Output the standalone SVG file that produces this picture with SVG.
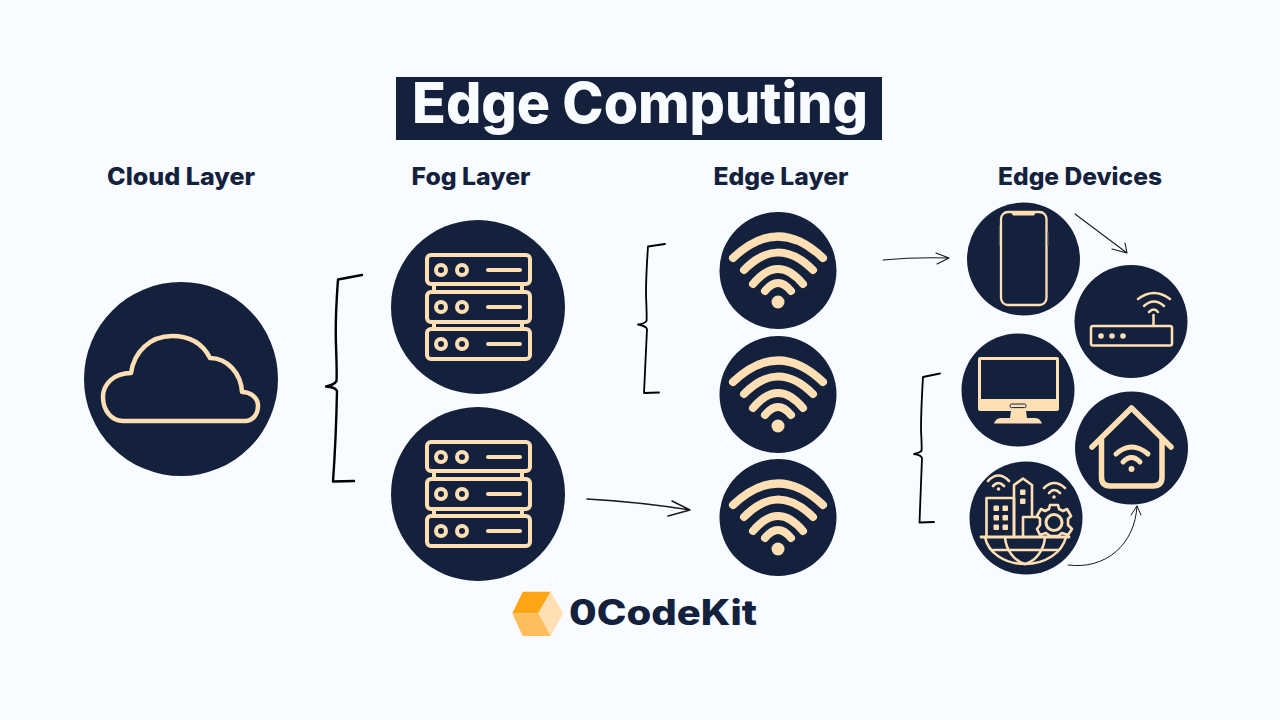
<svg xmlns="http://www.w3.org/2000/svg" xmlns:xlink="http://www.w3.org/1999/xlink" width="1280" height="720" viewBox="0 0 1280 720">
<style>
.bg{fill:#f8fbff}
.disc{fill:#14213d}
.ic{fill:none;stroke:#ffdfb3;stroke-linecap:round;stroke-linejoin:round}
.fc{fill:#ffdfb3}
.lab{font-family:"Inter","Liberation Sans",sans-serif;font-weight:800;font-size:24px;fill:#14213d;text-anchor:middle}
.br{fill:none;stroke:#000;stroke-linecap:round;stroke-linejoin:round}
.ar{fill:none;stroke:#1a1a1a;stroke-linecap:round;stroke-linejoin:round}
</style>
<defs>
<g id="server">
<g class="ic" stroke-width="4">
<rect x="427" y="-52" width="103" height="29" rx="4"/>
<rect x="427" y="-15" width="103" height="30" rx="4"/>
<rect x="427" y="22" width="103" height="30" rx="4"/>
<path d="M434,-23V-15M522,-23V-15M434,15V22M522,15V22"/>
<circle cx="441" cy="-37" r="5"/><circle cx="462" cy="-37" r="5"/><path d="M488,-37H520"/>
<circle cx="441" cy="0" r="5"/><circle cx="462" cy="0" r="5"/><path d="M488,0H520"/>
<circle cx="441" cy="37" r="5"/><circle cx="462" cy="37" r="5"/><path d="M488,37H520"/>
</g>
</g>
<g id="wifi">
<g class="ic" stroke-width="8">
<path d="M733,258Q778,215 823,258"/>
<path d="M744,270Q778,235 813,270"/>
<path d="M753,284Q778,254 803,284"/>
<path d="M765,291Q778,275 791,291"/>
</g>
<circle class="fc" cx="778" cy="302" r="6.5"/>
</g>
</defs>
<rect class="bg" width="1280" height="720"/>
<g id="title">
<rect x="396" y="77" width="486" height="63" fill="#14213d"/>
<text x="640" y="123" font-family="Inter,'Liberation Sans',sans-serif" font-weight="800" font-size="56" fill="#f8fbff" text-anchor="middle" textLength="456" lengthAdjust="spacingAndGlyphs">Edge Computing</text>
</g>
<g id="labels">
<text class="lab" x="181" y="185" textLength="148" lengthAdjust="spacingAndGlyphs">Cloud Layer</text>
<text class="lab" x="471" y="185" textLength="119" lengthAdjust="spacingAndGlyphs">Fog Layer</text>
<text class="lab" x="781" y="185" textLength="135" lengthAdjust="spacingAndGlyphs">Edge Layer</text>
<text class="lab" x="1080" y="185" textLength="164" lengthAdjust="spacingAndGlyphs">Edge Devices</text>
</g>
<g id="cloud">
<circle class="disc" cx="181" cy="379" r="97"/>
<path class="ic" stroke-width="4.500" d="M123,421H245C253,421 258,414 258,406C258,398 251,392 242,392C241,373 227,358 210,358C202,342 188,336 172,336C150,336 134,352 131,373C114,373 103,384 103,397C103,411 112,421 123,421Z"/>
</g>
<g id="fog1">
<circle class="disc" cx="478" cy="307" r="87"/>
<use xlink:href="#server" href="#server" y="307"/>
</g>
<g id="fog2">
<circle class="disc" cx="478" cy="494" r="87"/>
<use xlink:href="#server" href="#server" y="494"/>
</g>
<g id="edge1">
<circle class="disc" cx="778" cy="270.500" r="58.500"/>
<use xlink:href="#wifi" href="#wifi"/>
</g>
<g id="edge2">
<circle class="disc" cx="778" cy="394.500" r="58.500"/>
<use xlink:href="#wifi" href="#wifi" y="124"/>
</g>
<g id="edge3">
<circle class="disc" cx="778" cy="517.500" r="58.500"/>
<use xlink:href="#wifi" href="#wifi" y="247"/>
</g>
<g id="phone">
<circle class="disc" cx="1023.500" cy="259" r="56.500"/>
<rect class="ic" x="1001" y="212" width="45.500" height="93" rx="7" stroke-width="2.300"/>
<path class="fc" d="M1011,212H1036L1034,215.500H1013Z"/>
<path d="M999.300,225V246M1048,232V246" stroke="#5d6475" stroke-width="1"/>
</g>
<g id="router">
<circle class="disc" cx="1131" cy="321.500" r="56.500"/>
<rect class="ic" x="1091" y="326" width="81" height="19.500" rx="2" stroke-width="2.500"/>
<path class="ic" stroke-width="2.500" d="M1153.500,315V326M1138,299Q1154,287 1170,299M1144,306Q1154,297 1164,306M1149,312Q1154,307 1158,312"/>
<circle class="fc" cx="1101" cy="336" r="2.800"/><circle class="fc" cx="1112" cy="336" r="2.800"/><circle class="fc" cx="1123" cy="336" r="2.800"/>
</g>
<g id="monitor">
<circle class="disc" cx="1018" cy="390" r="56.500"/>
<rect class="fc" x="978" y="357" width="81" height="54" rx="2"/>
<rect class="disc" x="981" y="360" width="75" height="39"/>
<rect x="1010" y="404" width="16" height="3.600" rx="1.500" fill="none" stroke="#14213d" stroke-width="1"/>
<path class="fc" d="M1011,411H1026L1027,418H1035C1039,418 1041,421 1042,423.500H994C995,421 997,418 1001,418H1010Z"/>
</g>
<g id="home">
<circle class="disc" cx="1131.500" cy="448" r="56.500"/>
<path class="ic" stroke-width="5.500" d="M1092,447L1131.500,408L1171,447M1101.500,439V477Q1101.500,486 1110,486H1153Q1162,486 1162,477V439"/>
<path class="ic" stroke-width="5" d="M1116,454Q1131.500,440 1148,454M1123,462Q1131.500,453 1140,462"/>
<circle class="fc" cx="1131.500" cy="469" r="3"/>
</g>
<g id="city">
<circle class="disc" cx="1026" cy="518" r="56.500"/>
<g class="ic" stroke-width="2.600">
<path d="M981,537H1069" stroke-width="2.800"/>
<path d="M985,537C988,553 1005,564 1025,564C1045,564 1062,553 1066,537"/>
<path d="M1005,537C1006,550 1014,561 1025,564C1036,561 1044,550 1045,537"/>
<path d="M993,550H1058"/>
<path d="M1014,537V498H986.500V537"/>
<path d="M1014,537V485L1023,478.500L1032,485V516"/>
<path d="M1023,537V517H1036"/>
<path d="M1050,505L1058,505L1059,509L1063,511L1067,509L1071,516L1068,519L1068,525L1072,529L1068,535L1062,533L1058,536L1050,536L1046,533L1040,535L1037,529L1040,525L1040,519L1037,516L1041,509L1045,511L1049,509Z" fill="#14213d"/>
<circle cx="1054" cy="522.500" r="8" stroke-width="3"/>
<path d="M988,481Q998.500,470 1009,481M993,486Q998.500,480 1004,486M1044,488Q1054,478 1065,488M1049,493Q1054,487 1060,493"/>
</g>
<g class="fc">
<rect x="993.500" y="505.500" width="5.500" height="5.500" rx="1"/><rect x="1002.500" y="505.500" width="5.500" height="5.500" rx="1"/>
<rect x="993.500" y="515" width="5.500" height="5.500" rx="1"/><rect x="1002.500" y="515" width="5.500" height="5.500" rx="1"/>
<rect x="993.500" y="524.500" width="5.500" height="5.500" rx="1"/><rect x="1002.500" y="524.500" width="5.500" height="5.500" rx="1"/>
<rect x="1020" y="489.500" width="5.500" height="5.500" rx="1"/><rect x="1020" y="498.500" width="5.500" height="5.500" rx="1"/>
<circle cx="998.500" cy="489" r="1.800"/><circle cx="1054" cy="497" r="1.800"/>
</g>
</g>
<g id="connectors">
<path class="br" stroke-width="2.400" d="M362,275L338,279.500Q335,320 336,345Q337,375 336.500,381Q334,385 326,386.500Q335,387 337,391Q336,440 333,481.500L354,481"/>
<path class="br" stroke-width="1.800" d="M665,244L648,246.500Q646,275 646,295Q647,318 646.500,321Q644,324 638,324.500Q646,326 647,329L644,393L659,392.500"/>
<path class="br" stroke-width="1.800" d="M940,373.500L923,377Q921,410 921,430Q922,448 921.500,451Q919,453 914,454Q921,455 922,458L919.500,522.500L934,522"/>
<path class="ar" stroke-width="1.100" d="M883,260Q915,257 949,258M936,253L949,258L937,264"/>
<path class="ar" stroke-width="1.500" d="M587,499Q640,502 690,510M672,501L690,510L668,516"/>
<path class="ar" stroke-width="1.100" d="M1075,214L1127,253M1125,243L1127,253L1112,249"/>
<path class="ar" stroke-width="1" d="M1068,565C1105,570 1135,545 1137,506M1131,515L1137,506L1141,515"/>
</g>
<g id="logo">
<path fill="#ffa412" d="M522.700,591.700H550.700L538.300,613.300H512.300Z"/>
<path fill="#ffdfb3" d="M550.700,591.700L563.300,613.300L550.700,636L538.300,613.300Z"/>
<path fill="#ffbe5c" d="M512.300,613.300H538.300L550.700,636H522.700Z"/>
<text x="663" y="625" font-family="Inter,'Liberation Sans',sans-serif" font-weight="800" font-size="35" fill="#14213d" text-anchor="middle" textLength="188" lengthAdjust="spacingAndGlyphs">0CodeKit</text>
</g>
</svg>
